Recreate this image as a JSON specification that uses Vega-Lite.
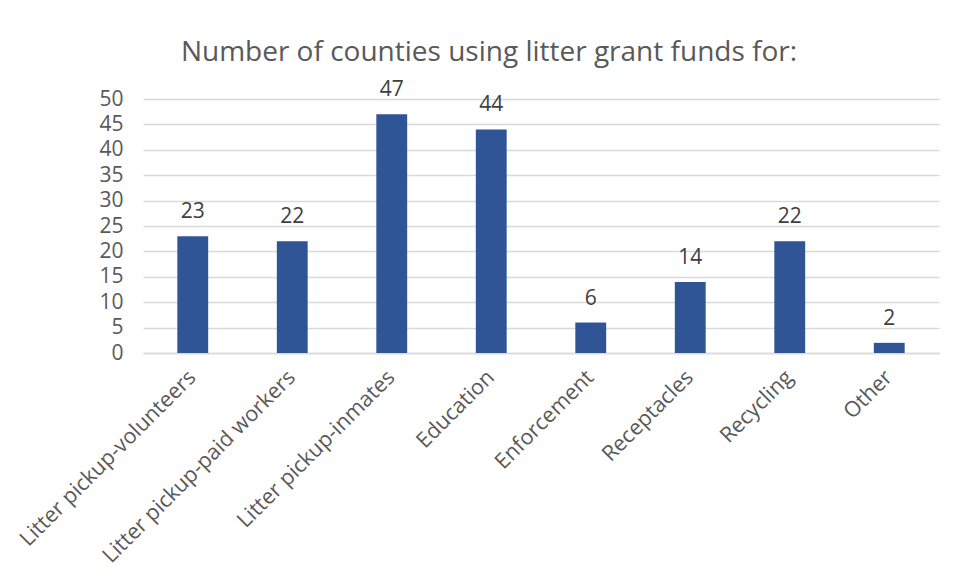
{
  "$schema": "https://vega.github.io/schema/vega-lite/v6.json",
  "width": 796,
  "height": 254,
  "autosize": {"type": "none"},
  "padding": {"left": 143, "top": 99, "right": 19, "bottom": 229},
  "background": "white",
  "title": {
    "text": "Number of counties using litter grant funds for:",
    "font": "Open Sans",
    "fontSize": 28,
    "fontWeight": "normal",
    "color": "#595959",
    "anchor": "middle",
    "dx": -52,
    "offset": 12
  },
  "data": {
    "values": [
      {"use": "Litter pickup-volunteers", "count": 23},
      {"use": "Litter pickup-paid workers", "count": 22},
      {"use": "Litter pickup-inmates", "count": 47},
      {"use": "Education", "count": 44},
      {"use": "Enforcement", "count": 6},
      {"use": "Receptacles", "count": 14},
      {"use": "Recycling", "count": 22},
      {"use": "Other", "count": 2}
    ]
  },
  "encoding": {
    "x": {
      "field": "use",
      "type": "nominal",
      "sort": null,
      "scale": {"paddingInner": 0.69, "paddingOuter": 0.345},
      "axis": {
        "title": null,
        "labelAngle": -45,
        "labelAlign": "right",
        "labelBaseline": "middle",
        "labelFont": "Open Sans",
        "labelFontSize": 21.5,
        "labelColor": "#595959",
        "labelPadding": 21,
        "labelLimit": 0,
        "ticks": false,
        "domainColor": "#d9d9d9",
        "domainWidth": 1.5,
        "grid": false
      }
    },
    "y": {
      "field": "count",
      "type": "quantitative",
      "scale": {"domain": [0, 50]},
      "axis": {
        "title": null,
        "values": [0, 5, 10, 15, 20, 25, 30, 35, 40, 45, 50],
        "labelFont": "Open Sans",
        "labelFontSize": 21,
        "labelColor": "#595959",
        "labelPadding": 20,
        "ticks": false,
        "domain": false,
        "gridColor": "#d9d9d9",
        "gridWidth": 1.5
      }
    }
  },
  "layer": [
    {"mark": {"type": "bar", "color": "#2F5597"}},
    {
      "mark": {
        "type": "text",
        "baseline": "alphabetic",
        "dy": -18,
        "font": "Open Sans",
        "fontSize": 21,
        "color": "#404040"
      },
      "encoding": {"text": {"field": "count", "type": "quantitative"}}
    }
  ],
  "config": {"view": {"stroke": null}}
}
